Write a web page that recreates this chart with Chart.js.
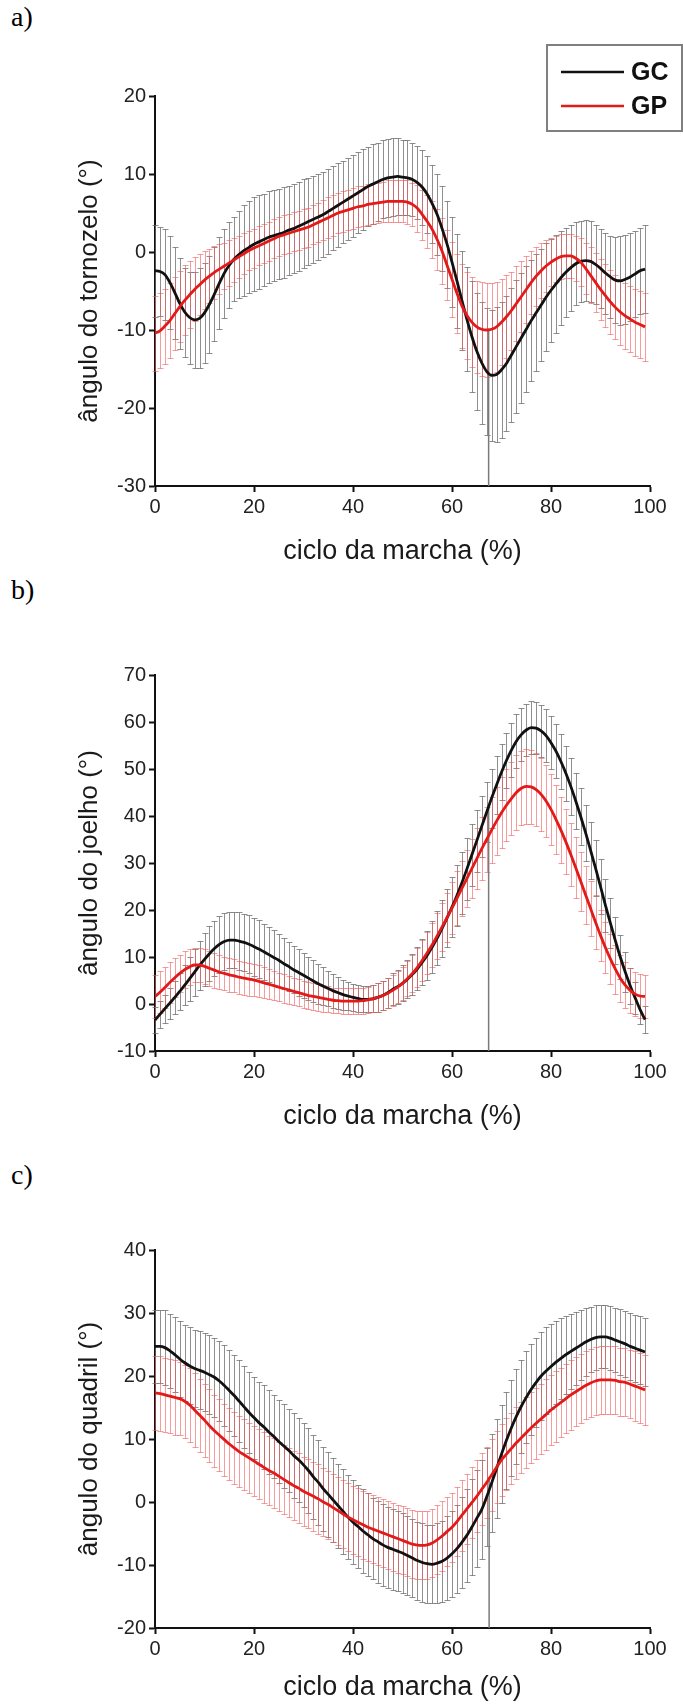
<!DOCTYPE html>
<html>
<head>
<meta charset="utf-8">
<script src="https://cdn.jsdelivr.net/npm/chart.js@4/dist/chart.umd.min.js"></script>
<style>
  body { margin: 0; background: #fff; width: 683px; height: 1708px; position: relative; overflow: hidden; }
  .panel { position: absolute; left: 0; width: 683px; }
  .tag { position: absolute; left: 11px; font: 28px "Liberation Serif", "DejaVu Serif", serif; color: #000; line-height: 30px; }
</style>
</head>
<body>
<div class="tag" style="top:2px">a)</div>
<div class="tag" style="top:575px">b)</div>
<div class="tag" style="top:1160px">c)</div>
<div class="panel" style="top:0;height:580px"><canvas id="chartA" width="683" height="580"></canvas></div>
<div class="panel" style="top:580px;height:560px"><canvas id="chartB" width="683" height="560"></canvas></div>
<div class="panel" style="top:1140px;height:568px"><canvas id="chartC" width="683" height="568"></canvas></div>

<script>
// gait cycle sample points (%)
const cycle = [0,1,2,3,4,5,6,7,8,9,10,11,12,13,14,15,16,17,18,19,20,21,22,23,24,25,26,27,28,29,
  30,31,32,33,34,35,36,37,38,39,40,41,42,43,44,45,46,47,48,49,50,51,52,53,54,55,56,57,58,59,
  60,61,62,63,64,65,66,67,68,69,70,71,72,73,74,75,76,77,78,79,80,81,82,83,84,85,86,87,88,89,
  90,91,92,93,94,95,96,97,98,99];

const groups = ['GC', 'GP'];
const xTitle = 'ciclo da marcha (%)';
const yTitles = ['ângulo do tornozelo (°)', 'ângulo do joelho (°)', 'ângulo do quadril (°)'];
const xTicks = [0, 20, 40, 60, 80, 100];
const yRanges = [[-30, 20], [-10, 70], [-20, 40]];
const toeOff = [67.4, 67.4, 67.5];
const toeTop = [-9.8, 42, 4];

// a) tornozelo
const aGcMean = [-2.4,-2.5,-2.9,-3.9,-5.2,-6.6,-7.7,-8.4,-8.7,-8.5,
  -7.8,-6.7,-5.4,-4.0,-2.7,-1.7,-0.9,-0.3,0.2,0.6,
  1.0,1.3,1.6,1.9,2.1,2.3,2.5,2.8,3.0,3.3,
  3.6,3.9,4.2,4.5,4.8,5.2,5.6,6.0,6.4,6.8,
  7.2,7.6,8.0,8.4,8.7,9.0,9.3,9.5,9.6,9.7,
  9.6,9.5,9.3,8.9,8.3,7.4,6.2,4.8,3.0,1.0,
  -1.3,-3.7,-6.2,-8.6,-10.8,-12.7,-14.2,-15.3,-15.8,-15.7,
  -15.1,-14.3,-13.2,-12.1,-11.0,-9.9,-8.8,-7.8,-6.8,-5.8,
  -4.9,-4.1,-3.3,-2.6,-2.0,-1.5,-1.2,-1.1,-1.2,-1.6,
  -2.1,-2.7,-3.2,-3.6,-3.7,-3.5,-3.2,-2.8,-2.4,-2.2];
const aGcSd = [5.9,5.7,5.8,6.0,5.9,5.8,5.7,5.9,6.2,6.4,
  6.4,6.2,6.0,5.9,5.7,5.5,5.4,5.6,5.8,5.9,
  6.0,6.0,5.9,5.9,5.8,5.8,5.8,5.7,5.7,5.7,
  5.7,5.6,5.6,5.5,5.5,5.4,5.4,5.4,5.3,5.3,
  5.3,5.2,5.2,5.1,5.1,5.0,5.0,5.0,5.0,4.9,
  4.8,4.8,4.7,4.7,4.8,4.9,5.0,5.2,5.4,5.6,
  5.8,6.0,6.3,6.7,7.1,7.5,7.8,8.1,8.4,8.6,
  8.7,8.7,8.6,8.5,8.3,8.1,7.8,7.5,7.2,6.9,
  6.6,6.3,6.0,5.7,5.5,5.3,5.2,5.2,5.2,5.1,
  5.1,5.2,5.3,5.5,5.7,5.7,5.6,5.5,5.5,5.6];
const aGpMean = [-10.4,-10.1,-9.5,-8.8,-7.9,-7.0,-6.2,-5.5,-4.8,-4.2,
  -3.6,-3.1,-2.6,-2.2,-1.8,-1.4,-1.0,-0.6,-0.2,0.2,
  0.5,0.8,1.1,1.4,1.7,2.0,2.2,2.4,2.6,2.8,
  3.0,3.2,3.5,3.8,4.1,4.4,4.7,5.0,5.2,5.4,
  5.6,5.8,5.9,6.1,6.2,6.3,6.4,6.5,6.5,6.5,
  6.5,6.4,6.1,5.6,4.8,3.9,2.9,1.6,0.1,-1.7,
  -3.5,-5.3,-6.9,-8.1,-9.0,-9.6,-9.9,-10.0,-9.9,-9.6,
  -9.0,-8.3,-7.5,-6.6,-5.7,-4.8,-3.9,-3.1,-2.4,-1.8,
  -1.3,-0.9,-0.6,-0.5,-0.5,-0.8,-1.3,-2.1,-3.0,-3.9,
  -4.8,-5.6,-6.4,-7.1,-7.7,-8.2,-8.6,-9.0,-9.3,-9.6];
const aGpSd = [4.8,4.8,4.8,4.8,4.7,4.6,4.5,4.3,4.1,3.9,
  3.7,3.5,3.4,3.2,3.0,2.9,2.8,2.7,2.6,2.5,
  2.5,2.5,2.5,2.5,2.5,2.5,2.5,2.5,2.5,2.5,
  2.5,2.5,2.5,2.5,2.6,2.6,2.6,2.6,2.6,2.6,
  2.6,2.6,2.6,2.6,2.6,2.6,2.6,2.7,2.7,2.7,
  2.7,2.8,2.8,3.0,3.2,3.4,3.7,3.9,4.2,4.5,
  4.8,5.1,5.4,5.6,5.8,5.9,6.0,6.0,5.9,5.8,
  5.5,5.3,5.0,4.8,4.5,4.3,4.0,3.8,3.5,3.3,
  3.1,3.0,2.9,2.8,2.8,2.9,3.1,3.3,3.6,3.8,
  3.9,4.0,4.1,4.1,4.2,4.2,4.2,4.3,4.3,4.4];

// b) joelho
const bGcMean = [-3.4,-2.2,-1.0,0.2,1.4,2.7,4.0,5.4,6.8,8.2,
  9.5,10.7,11.8,12.7,13.3,13.6,13.6,13.4,13.1,12.7,
  12.2,11.7,11.1,10.5,9.9,9.3,8.6,8.0,7.3,6.7,
  6.1,5.5,4.9,4.3,3.8,3.3,2.8,2.4,2.0,1.7,
  1.4,1.2,1.0,1.0,1.1,1.4,1.8,2.4,3.1,3.7,
  4.4,5.3,6.3,7.5,8.9,10.4,12.1,14.0,16.1,18.3,
  20.6,23.1,25.8,28.7,31.7,34.7,37.8,40.8,43.8,46.6,
  49.3,51.8,54.0,55.9,57.3,58.3,58.8,58.7,58.1,57.1,
  55.6,53.8,51.6,49.1,46.3,43.2,39.9,36.4,32.7,28.9,
  25.0,21.0,17.2,13.5,10.0,6.8,3.9,1.3,-1.2,-3.3];
const bGcSd = [2.7,2.8,3.0,3.3,3.6,3.9,4.3,4.7,5.0,5.3,
  5.6,5.8,5.9,6.0,6.0,6.0,6.0,6.1,6.1,6.2,
  6.2,6.1,6.0,5.9,5.8,5.6,5.4,5.2,5.0,4.9,
  4.8,4.6,4.4,4.2,4.0,3.8,3.6,3.4,3.2,3.0,
  2.9,2.8,2.8,2.8,2.9,3.0,3.1,3.2,3.4,3.6,
  3.8,4.0,4.3,4.6,4.9,5.2,5.5,5.8,6.0,6.2,
  6.4,6.5,6.6,6.6,6.6,6.6,6.5,6.4,6.3,6.2,
  6.0,5.9,5.8,5.7,5.7,5.6,5.6,5.6,5.6,5.6,
  5.6,5.7,5.8,5.9,6.0,6.0,6.0,6.0,6.0,5.9,
  5.8,5.6,5.3,5.0,4.6,4.2,3.8,3.4,3.1,2.9];
const bGpMean = [1.6,2.5,3.5,4.6,5.6,6.5,7.3,7.9,8.3,8.3,
  8.0,7.6,7.2,6.8,6.5,6.2,6.0,5.7,5.5,5.3,
  5.1,4.8,4.5,4.2,3.9,3.6,3.3,3.0,2.7,2.4,
  2.1,1.8,1.6,1.4,1.2,1.0,0.8,0.7,0.6,0.6,
  0.6,0.6,0.7,0.9,1.1,1.4,1.8,2.3,2.9,3.6,
  4.4,5.4,6.5,7.8,9.3,10.9,12.6,14.5,16.4,18.4,
  20.4,22.5,24.6,26.7,28.8,30.9,33.0,35.0,37.0,38.9,
  40.7,42.3,43.7,45.0,45.9,46.3,46.2,45.6,44.6,43.2,
  41.4,39.3,37.0,34.5,31.8,29.0,26.1,23.2,20.3,17.4,
  14.6,12.0,9.6,7.4,5.5,4.0,2.9,2.1,1.7,1.6];
const bGpSd = [4.6,4.5,4.4,4.3,4.1,4.0,3.9,3.8,3.7,3.7,
  3.7,3.7,3.7,3.6,3.6,3.6,3.5,3.5,3.5,3.5,
  3.5,3.4,3.3,3.2,3.1,3.0,3.0,2.9,2.9,2.9,
  2.9,2.8,2.8,2.8,2.8,2.8,2.7,2.7,2.7,2.7,
  2.7,2.7,2.8,2.8,2.9,3.0,3.1,3.2,3.3,3.4,
  3.5,3.7,3.9,4.1,4.3,4.5,4.7,4.9,5.1,5.3,
  5.5,5.7,5.9,6.1,6.3,6.5,6.7,6.9,7.1,7.3,
  7.5,7.7,7.8,7.9,7.9,7.9,7.9,7.8,7.7,7.6,
  7.5,7.3,7.1,6.9,6.7,6.5,6.3,6.1,5.9,5.7,
  5.5,5.4,5.3,5.2,5.0,4.9,4.8,4.7,4.7,4.6];

// c) quadril
const cGcMean = [24.7,24.7,24.5,24.0,23.4,22.7,22.1,21.6,21.2,20.9,
  20.6,20.2,19.8,19.2,18.5,17.7,16.9,16.0,15.1,14.2,
  13.4,12.6,11.9,11.1,10.4,9.6,8.9,8.2,7.4,6.7,
  5.9,5.0,4.0,3.1,2.1,1.2,0.3,-0.6,-1.5,-2.4,
  -3.2,-3.9,-4.6,-5.2,-5.8,-6.3,-6.8,-7.2,-7.5,-7.8,
  -8.1,-8.5,-8.9,-9.3,-9.6,-9.8,-9.9,-9.7,-9.4,-8.9,
  -8.2,-7.4,-6.4,-5.3,-4.0,-2.6,-1.2,0.8,3.0,5.3,
  7.6,9.8,11.8,13.6,15.2,16.6,17.9,19.0,20.0,20.8,
  21.5,22.2,22.8,23.4,23.9,24.4,24.9,25.4,25.8,26.1,
  26.2,26.2,26.0,25.7,25.4,25.1,24.7,24.4,24.1,23.8];
const cGcSd = [5.8,5.8,5.9,5.9,6.0,6.0,6.0,6.1,6.1,6.2,
  6.2,6.3,6.3,6.4,6.4,6.4,6.5,6.5,6.5,6.5,
  6.5,6.5,6.6,6.6,6.6,6.6,6.6,6.6,6.7,6.7,
  6.7,6.7,6.7,6.7,6.7,6.7,6.7,6.7,6.7,6.7,
  6.7,6.6,6.6,6.6,6.5,6.5,6.5,6.4,6.4,6.3,
  6.3,6.3,6.2,6.2,6.2,6.2,6.2,6.3,6.4,6.6,
  6.8,7.0,7.2,7.4,7.6,7.7,7.8,7.8,7.8,7.8,
  7.8,7.7,7.6,7.5,7.4,7.3,7.2,7.1,7.0,6.9,
  6.8,6.6,6.4,6.2,6.0,5.8,5.6,5.4,5.2,5.1,
  5.0,5.0,5.1,5.1,5.2,5.2,5.3,5.3,5.4,5.4];
const cGpMean = [17.3,17.2,17.0,16.8,16.6,16.4,16.0,15.4,14.6,13.8,
  13.0,12.1,11.3,10.6,9.9,9.2,8.6,8.0,7.5,7.0,
  6.5,6.0,5.5,5.0,4.6,4.1,3.6,3.1,2.6,2.2,
  1.7,1.3,0.9,0.5,0.0,-0.4,-0.9,-1.4,-1.9,-2.4,
  -2.8,-3.2,-3.6,-4.0,-4.3,-4.6,-4.9,-5.2,-5.5,-5.8,
  -6.1,-6.4,-6.7,-6.85,-6.9,-6.8,-6.5,-6.0,-5.4,-4.7,
  -4.0,-3.1,-2.1,-1.1,-0.1,0.9,2.0,3.1,4.3,5.5,
  6.7,7.6,8.5,9.4,10.2,11.0,11.8,12.5,13.2,13.9,
  14.6,15.2,15.8,16.4,17.0,17.5,18.0,18.5,18.9,19.2,
  19.4,19.4,19.4,19.3,19.1,19.0,18.7,18.4,18.1,17.8];
const cGpSd = [5.9,5.9,5.9,5.9,5.9,5.8,5.8,5.8,5.8,5.8,
  5.8,5.8,5.7,5.7,5.7,5.7,5.7,5.6,5.6,5.6,
  5.6,5.6,5.6,5.5,5.5,5.5,5.5,5.5,5.5,5.5,
  5.5,5.5,5.5,5.5,5.4,5.4,5.4,5.4,5.4,5.4,
  5.4,5.4,5.4,5.4,5.4,5.4,5.4,5.4,5.4,5.4,
  5.4,5.4,5.4,5.4,5.4,5.4,5.4,5.5,5.5,5.5,
  5.5,5.5,5.6,5.6,5.6,5.7,5.7,5.7,5.7,5.7,
  5.7,5.7,5.7,5.7,5.6,5.6,5.6,5.6,5.6,5.6,
  5.6,5.6,5.5,5.5,5.5,5.5,5.5,5.4,5.4,5.4,
  5.4,5.4,5.4,5.4,5.4,5.4,5.4,5.5,5.5,5.5];

const means = [[aGcMean, aGpMean], [bGcMean, bGpMean], [cGcMean, cGpMean]];
const sds = [[aGcSd, aGpSd], [bGcSd, bGpSd], [cGcSd, cGpSd]];

// per-panel placement in its canvas (px)
const panels = [
  { id: 'chartA', h: 580, top: 96, bottom: 486, xTitlePad: 12, legend: true },
  { id: 'chartB', h: 560, top: 95, bottom: 471, xTitlePad: 7, legend: false },
  { id: 'chartC', h: 568, top: 110, bottom: 488, xTitlePad: 4, legend: false }
];

const lineColors = ['#111111', '#e21a1a'];
const barColors = ['rgba(105,105,105,0.75)', 'rgba(238,90,90,0.6)'];
const FONT = '"Liberation Sans", Arial, sans-serif';

// SD error bars, drawn under the mean curves
const errorBars = {
  id: 'errorBars',
  beforeDatasetsDraw(chart) {
    const { ctx, scales: { x, y } } = chart;
    ctx.save();
    ctx.lineWidth = 1;
    chart.data.datasets.slice().reverse().forEach(ds => {
      if (!ds.sd) return;
      ctx.strokeStyle = ds.barColor;
      ctx.beginPath();
      ds.data.forEach((p, i) => {
        const px = Math.round(x.getPixelForValue(p.x)) + 0.5;
        const hi = Math.round(y.getPixelForValue(p.y + ds.sd[i])) + 0.5;
        const lo = Math.round(y.getPixelForValue(p.y - ds.sd[i])) + 0.5;
        ctx.moveTo(px, hi); ctx.lineTo(px, lo);
        ctx.moveTo(px - 3, hi); ctx.lineTo(px + 3, hi);
        ctx.moveTo(px - 3, lo); ctx.lineTo(px + 3, lo);
      });
      ctx.stroke();
    });
    ctx.restore();
  }
};

// framed legend in the top right corner
const boxLegend = {
  id: 'boxLegend',
  afterDraw(chart, args, opts) {
    const { ctx } = chart;
    ctx.save();
    ctx.strokeStyle = '#808080';
    ctx.lineWidth = 2;
    ctx.strokeRect(opts.left, opts.top, opts.width, opts.height);
    ctx.font = 'bold 25px ' + FONT;
    ctx.textBaseline = 'middle';
    groups.forEach((g, k) => {
      const ds = chart.data.datasets.find(d => d.label === g);
      const yy = opts.rowY[k];
      ctx.strokeStyle = ds.borderColor;
      ctx.lineWidth = 2.6;
      ctx.beginPath();
      ctx.moveTo(opts.lineX[0], yy);
      ctx.lineTo(opts.lineX[1], yy);
      ctx.stroke();
      ctx.fillStyle = '#111';
      ctx.fillText(g, opts.textX, yy + 1);
    });
    ctx.restore();
  }
};

panels.forEach((pn, p) => {
  const [ymin, ymax] = yRanges[p];
  const series = groups.map((g, k) => ({
    label: g,
    data: cycle.map((c, i) => ({ x: c, y: means[p][k][i] })),
    sd: sds[p][k],
    barColor: barColors[k],
    borderColor: lineColors[k],
    borderWidth: 2.8,
    pointRadius: 0,
    cubicInterpolationMode: 'monotone'
  }));
  const datasets = [
    series[1],
    series[0],
    {
      label: 'toe-off',
      data: [{ x: toeOff[p], y: ymin }, { x: toeOff[p], y: toeTop[p] }],
      borderColor: '#7a7a7a',
      borderWidth: 1.5,
      pointRadius: 0
    }
  ];

  const plugins = [errorBars];
  if (pn.legend) plugins.push(boxLegend);

  new Chart(document.getElementById(pn.id), {
    type: 'line',
    data: { datasets },
    plugins,
    options: {
      responsive: false,
      animation: false,
      devicePixelRatio: 1,
      layout: { padding: { top: pn.top, right: 33, left: 0, bottom: 0 } },
      plugins: {
        legend: { display: false },
        tooltip: { enabled: false },
        boxLegend: { left: 547, top: 45, width: 135, height: 86, rowY: [72, 106], lineX: [561, 624], textX: 631 }
      },
      scales: {
        x: {
          type: 'linear',
          min: 0, max: 100,
          afterFit: s => { s.height = pn.h - pn.bottom; },
          afterBuildTicks: s => { s.ticks = xTicks.map(v => ({ value: v })); },
          ticks: { color: '#222', font: { family: FONT, size: 20 }, padding: 3, maxRotation: 0 },
          grid: { drawOnChartArea: false, drawTicks: true, tickLength: 6, color: '#111', tickWidth: 2 },
          border: { display: true, color: '#111', width: 2 },
          title: { display: true, text: xTitle, color: '#1a1a1a', font: { family: FONT, size: 27 }, padding: { top: 0, bottom: pn.xTitlePad } }
        },
        y: {
          type: 'linear',
          min: ymin, max: ymax,
          afterFit: s => { s.width = 155; },
          ticks: { stepSize: 10, color: '#222', font: { family: FONT, size: 20 }, padding: 3 },
          grid: { drawOnChartArea: false, drawTicks: true, tickLength: 6, color: '#111', tickWidth: 2 },
          border: { display: true, color: '#111', width: 2 },
          title: { display: true, text: yTitles[p], color: '#1a1a1a', font: { family: FONT, size: 26 }, padding: { top: 74, bottom: 0 } }
        }
      }
    }
  });
});
</script>
</body>
</html>
